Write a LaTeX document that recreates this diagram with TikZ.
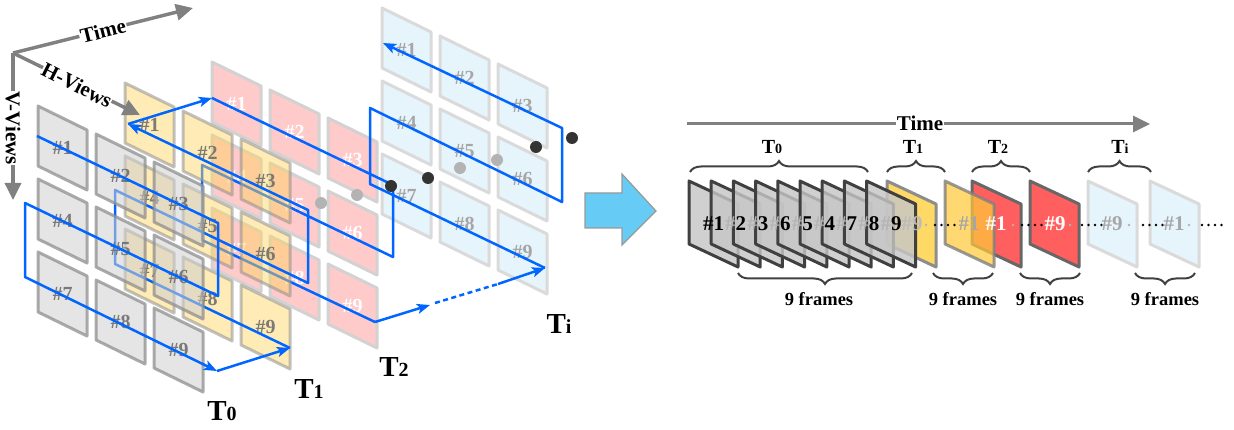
\documentclass[tikz,border=0pt]{standalone}
\usepackage{fontspec}
\setmainfont{Liberation Serif}
\usetikzlibrary{arrows.meta,decorations.pathreplacing}
\definecolor{bl}{HTML}{0066FF}
\definecolor{axg}{HTML}{808080}
\definecolor{gfill}{HTML}{CFCFCF}
\definecolor{gline}{HTML}{8F8F8F}
\definecolor{yfill}{HTML}{FFD25A}
\definecolor{pfill}{HTML}{FFCACA}
\definecolor{pline}{HTML}{D2D2D2}
\definecolor{cfill}{HTML}{E6F4FC}
\definecolor{cline}{HTML}{DADADA}
\definecolor{dk}{HTML}{404040}
\definecolor{rgfill}{HTML}{C6C6C6}
\definecolor{gold}{HTML}{FFC93C}
\definecolor{goldb}{HTML}{FFD966}
\definecolor{rred}{HTML}{FF5F5F}
\definecolor{skyb}{HTML}{66CCF5}
\definecolor{hashg}{HTML}{B4B4B4}
\definecolor{lab0}{HTML}{6E6E6E}
\definecolor{labi}{HTML}{A6A6A6}
\definecolor{dotk}{HTML}{333333}
\definecolor{dotg}{HTML}{B3B3B3}

\newcommand{\fgroup}[4]{%
  \foreach \r in {0,1,2}{%
    \foreach \c in {0,1,2}{%
      \pgfmathsetmacro{\fx}{#1+58*\c}%
      \pgfmathsetmacro{\fy}{#2+28*\c+73*\r}%
      \pgfmathtruncatemacro{\nn}{3*\r+\c+1}%
      \draw[#3] (\fx,\fy) -- ++(49,24) -- ++(0,60) -- ++(-49,-24) -- cycle;
      \node[#4] at ({\fx+24.5},{\fy+42}) {\#\nn};
    }}}
\newcommand{\rfr}[2]{\draw[#2] (#1,181) -- ++(49,23) -- ++(0,63) -- ++(-49,-23) -- cycle;}
\newcommand{\bigT}[1]{{\fontsize{29}{30}\selectfont T\fontsize{20}{20}\selectfont #1}}
\newcommand{\smT}[1]{{\fontsize{20}{20}\selectfont T\fontsize{14}{14}\selectfont #1}}

\tikzset{
  bp/.style={draw=bl,line width=2.5pt,line join=round},
  btip/.style={-{Stealth[length=13pt,width=10pt,inset=3pt]}},
  axis/.style={draw=axg,line width=3.5pt,-{Triangle[length=17pt,width=16pt]}},
  axlab/.style={fill=white,inner sep=1pt,font=\fontsize{21}{22}\selectfont\bfseries},
  lab/.style={font=\fontsize{20}{20}\selectfont\bfseries,inner sep=0pt},
  rlab/.style={font=\fontsize{21}{21}\selectfont\bfseries,inner sep=0pt},
  f0/.style={fill=gfill,fill opacity=0.55,draw=gline,draw opacity=0.75,line width=3pt,line join=round},
  l0/.style={lab,text=lab0,text opacity=0.9},
  f1/.style={fill=yfill,fill opacity=0.45,draw=gline,draw opacity=0.55,line width=3pt,line join=round},
  l1/.style={lab,text=lab0,text opacity=0.9},
  f2/.style={fill=pfill,draw=pline,line width=3pt,line join=round},
  l2/.style={lab,text=white},
  fi/.style={fill=cfill,draw=cline,line width=3pt,line join=round},
  li/.style={lab,text=labi},
  dotb/.style={fill=dotk},
  dotl/.style={fill=dotg},
  rg/.style={fill=rgfill,fill opacity=0.82,draw=dk,line width=3pt,line join=round},
  ry/.style={fill=goldb,draw=axg!90,line width=3pt,line join=round},
  ry2/.style={fill=gold,fill opacity=0.72,draw=axg,draw opacity=0.8,line width=3pt,line join=round},
  rr/.style={fill=rred,draw=axg!120,line width=3pt,line join=round},
  rc/.style={fill=cfill,draw=cline,line width=3pt,line join=round},
  brc/.style={draw=dk,line width=2pt,decorate,decoration={brace,amplitude=11pt}},
  rdots/.style={draw=black,line width=2.6pt,line cap=round,dash pattern=on 0pt off 6.5pt},
  flab/.style={font=\fontsize{18.5}{19}\selectfont\bfseries}
}

\begin{document}
\begin{tikzpicture}[x=1pt,y=-1pt,font=\bfseries]
\useasboundingbox (0,0) rectangle (1234,430);

% ---------- Ti and T2 frames ----------
\fgroup{382}{8}{fi}{li}
\fgroup{212}{62}{f2}{l2}

% Ti path
\coordinate (i0) at (545,268);
\coordinate (i1) at (370,184);
\coordinate (i2) at (370,108);
\coordinate (i3) at (562,202);
\coordinate (i4) at (562,128);
\coordinate (i5) at (383,43);
\draw[bp,btip] (i0) -- (i1) -- (i2) -- (i3) -- (i4) -- (i5);

% T2 path
\coordinate (s0) at (212,98);
\coordinate (s1) at (393,185);
\coordinate (s2) at (393,257);
\coordinate (s3) at (202,165);
\coordinate (s4) at (202,240);
\coordinate (s5) at (375,322);
\draw[bp] (s0) -- (s1) -- (s2) -- (s3) -- (s4) -- (s5);
\coordinate (m1) at (430,305);
\coordinate (m2) at (435,303);
\coordinate (m3) at (498,284);
\draw[bp,btip] (s5) -- (m1);
\draw[draw=bl,line width=2.5pt,dash pattern=on 5pt off 3.5pt] (m2) -- (m3);
\draw[bp,btip] (m3) -- (i0);

% dots
\fill[dotl] (321,203) circle (6);
\fill[dotl] (357,195) circle (6);
\fill[dotb] (391,186) circle (6);
\fill[dotb] (428,178) circle (6);
\fill[dotl] (460,168) circle (6);
\fill[dotl] (497,160) circle (6);
\fill[dotb] (536,147) circle (6);
\fill[dotb] (572,138) circle (6);

% ---------- T1 ----------
\fgroup{125}{83}{f1}{l1}
\coordinate (u0) at (290,348);
\coordinate (u1) at (115,264);
\coordinate (u2) at (115,190);
\coordinate (u3) at (308,283);
\coordinate (u4) at (308,210);
\coordinate (u5) at (128,124);
\draw[bp,btip] (u0) -- (u1) -- (u2) -- (u3) -- (u4) -- (u5);
\draw[bp,btip] (u5) -- (s0);

% ---------- T0 ----------
\fgroup{38}{106}{f0}{l0}
\coordinate (z0) at (37,136);
\coordinate (z1) at (218,223);
\coordinate (z2) at (218,296);
\coordinate (z3) at (25,203);
\coordinate (z4) at (25,277);
\coordinate (z5) at (217,371);
\draw[bp,btip] (z0) -- (z1) -- (z2) -- (z3) -- (z4) -- (z5);
\draw[bp,btip] (z5) -- (u0);

% ---------- left: axes (on top) ----------
\coordinate (o) at (13,53);
\coordinate (tE) at (193,8);
\coordinate (hE) at (140,115);
\coordinate (vE) at (13,200);
\draw[axis] (o) -- (tE);
\draw[axis] (o) -- (hE);
\draw[axis] (o) -- (vE);
\node[axlab,rotate=14] (tl) at (103,31) {Time};
\node[axlab,rotate=-27,inner sep=0pt] (hl) at (77,85) {H-Views};
\node[axlab,rotate=-90,inner sep=0pt] (vl) at (13,128) {V-Views};

% T labels
\node (T0a) at (222,411) {\bigT{0}};
\node (T1a) at (309,389) {\bigT{1}};
\node (T2a) at (394,367) {\bigT{2}};
\node (Tia) at (559,324) {\bigT{i}};

% ---------- big arrow ----------
\draw[fill=skyb,draw=axg!80,line width=1.2pt,line join=miter]
  (585,193) -- (622,193) -- (622,174) -- (656,211) -- (622,245) -- (622,228) -- (585,228) -- cycle;

% ---------- right: time axis ----------
\coordinate (ra) at (687,124);
\coordinate (rb) at (1150,124);
\draw[axis,line width=3pt] (ra) -- (rb);
\node[axlab,font=\fontsize{21}{21}\selectfont\bfseries] (rt) at (920,123) {Time};

% braces
\draw[brc] (690,172) -- (868,172);
\draw[brc] (887,172) -- (945,172);
\draw[brc] (972,172) -- (1030,172);
\draw[brc] (1088,172) -- (1151,172);
\node (rT0) at (772,147) {\smT{0}};
\node (rT1) at (913,147) {\smT{1}};
\node (rT2) at (998,147) {\smT{2}};
\node (rTi) at (1120,147) {\smT{i}};

\draw[brc] (912,273) -- (738,273);
\draw[brc] (993,273) -- (933,273);
\draw[brc] (1080,273) -- (1020,273);
\draw[brc] (1195,273) -- (1135,273);
\node[flab] (n0) at (819,299) {9 frames};
\node[flab] (n1) at (963,299) {9 frames};
\node[flab] (n2) at (1050,299) {9 frames};
\node[flab] (n3) at (1165,299) {9 frames};

% frames
\rfr{887}{ry}
\foreach \k in {0,...,8}{\rfr{689+22.2*\k}{rg}}
\rfr{972}{rr}
\rfr{945}{ry2}
\rfr{1030}{rr}
\rfr{1088}{rc}
\rfr{1150}{rc}

% dotted runs
\draw[rdots] (935,225) -- (960,225);
\draw[rdots] (1022,225) -- (1045,225);
\draw[rdots] (1082,225) -- (1102,225);
\draw[rdots] (1143,225) -- (1163,225);
\draw[rdots] (1202,225) -- (1224,225);
\foreach \x in {926,1013,1070,1129,1189}{\fill[hashg] (\x,225) circle (1.4);}

% labels
\node[rlab,text=hashg!90] at (912,224) {\#9};
\node[rlab] at (713.5,224) {\#1};
\foreach \k/\d in {1/2,2/3,3/6,4/5,5/4,6/7,7/8,8/9}{
  \node[rlab] at ({689+22.2*\k+24.5},224) {{\color{hashg}\#}\d};}
\node[rlab,text=labi] at (969,224) {\#1};
\node[rlab,text=white] at (996,224) {\#1};
\node[rlab,text=white] at (1055,224) {\#9};
\node[rlab,text=labi] at (1112,224) {\#9};
\node[rlab,text=labi] at (1174,224) {\#1};
\end{tikzpicture}
\end{document}
